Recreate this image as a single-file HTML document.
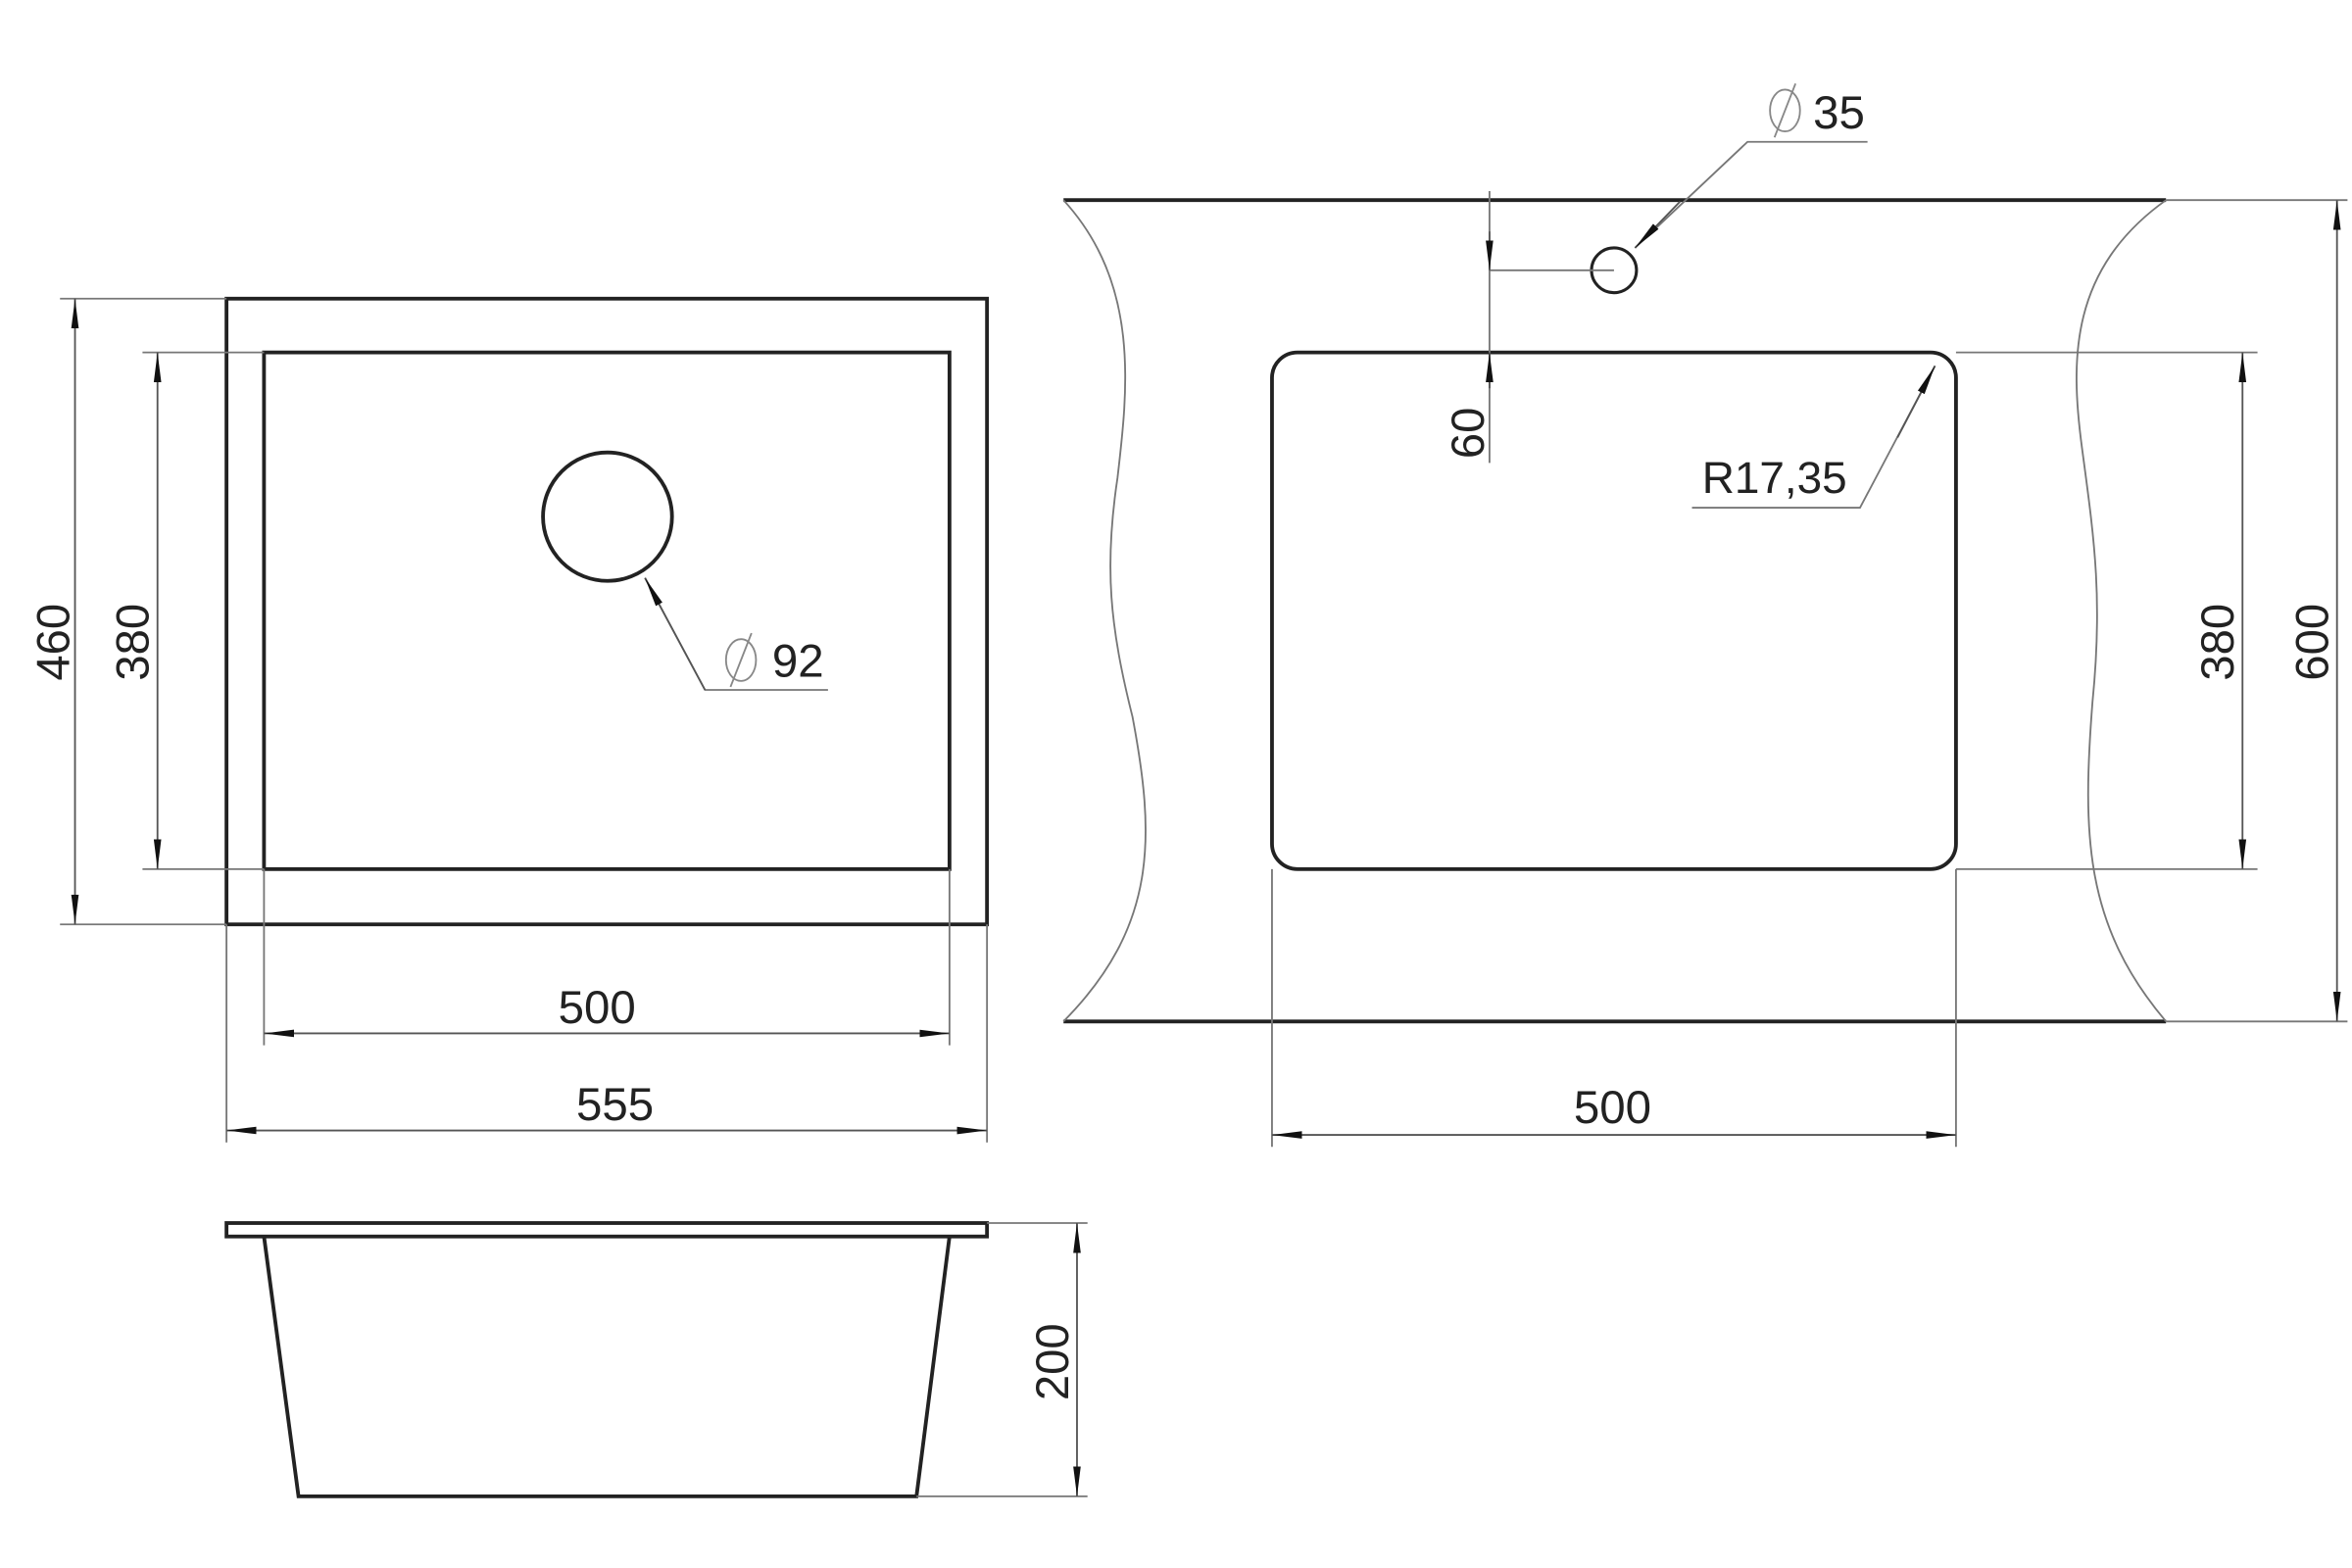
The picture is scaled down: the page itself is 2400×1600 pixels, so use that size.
<!DOCTYPE html>
<html><head><meta charset="utf-8"><style>html,body{margin:0;padding:0;background:#fff}svg{display:block}</style></head>
<body>
<svg width="2400" height="1600" viewBox="0 0 1568 1050" preserveAspectRatio="none" xmlns="http://www.w3.org/2000/svg">
<defs>
<marker id="a" viewBox="0 0 20 8" refX="20" refY="4" markerWidth="20" markerHeight="8" markerUnits="userSpaceOnUse" orient="auto-start-reverse"><path d="M0,1.5 L20,4 L0,6.5 z" fill="#111"/></marker>
</defs>
<g fill="none" stroke="#222" stroke-width="2.5">
<rect x="151" y="200" width="507" height="419"/>
<rect x="176" y="236" width="457" height="346"/>
<circle cx="405" cy="346" r="43"/>
<rect x="151" y="819" width="507" height="9"/>
<path d="M176,828 L199,1002 L611,1002 L633,828"/>
<line x1="709" y1="134" x2="1444" y2="134"/>
<line x1="709" y1="684" x2="1444" y2="684"/>
<rect x="848" y="236" width="456" height="346" rx="17" ry="17"/>
<circle cx="1076" cy="181" r="15" stroke-width="2"/>
</g>
<g fill="none" stroke="#777" stroke-width="1.2">
<path d="M709,134 C760,190 752,260 745,320 C736,380 740,420 755,480 C770,560 772,620 709,684"/>
<path d="M1444,134 C1380,180 1380,240 1388,300 C1396,360 1402,400 1395,470 C1388,560 1390,620 1444,684"/>
<line x1="40" y1="200" x2="151" y2="200"/><line x1="40" y1="619" x2="151" y2="619"/>
<line x1="95" y1="236" x2="176" y2="236"/><line x1="95" y1="582" x2="176" y2="582"/>
<line x1="176" y1="582" x2="176" y2="700"/><line x1="633" y1="582" x2="633" y2="700"/>
<line x1="151" y1="619" x2="151" y2="765"/><line x1="658" y1="619" x2="658" y2="765"/>
<line x1="658" y1="819" x2="725" y2="819"/><line x1="611" y1="1002" x2="725" y2="1002"/>
<path d="M430,387 L470,462 L552,462"/>
<line x1="848" y1="582" x2="848" y2="768"/><line x1="1304" y1="582" x2="1304" y2="768"/>
<line x1="1304" y1="236" x2="1505" y2="236"/><line x1="1304" y1="582" x2="1505" y2="582"/>
<line x1="1444" y1="134" x2="1565" y2="134"/><line x1="1444" y1="684" x2="1565" y2="684"/>
<line x1="993" y1="128" x2="993" y2="310"/>
<line x1="993" y1="181" x2="1076" y2="181"/>
<path d="M1090,166 L1165,95 L1245,95"/>
<path d="M1290,245 L1240,340 L1128,340"/>
</g>
<g stroke="#555" stroke-width="1.2" fill="none">
<line x1="50" y1="200" x2="50" y2="619" marker-start="url(#a)" marker-end="url(#a)"/>
<line x1="105" y1="236" x2="105" y2="582" marker-start="url(#a)" marker-end="url(#a)"/>
<line x1="176" y1="692" x2="633" y2="692" marker-start="url(#a)" marker-end="url(#a)"/>
<line x1="151" y1="757" x2="658" y2="757" marker-start="url(#a)" marker-end="url(#a)"/>
<line x1="718" y1="819" x2="718" y2="1002" marker-start="url(#a)" marker-end="url(#a)"/>
<line x1="470" y1="462" x2="430" y2="387" marker-end="url(#a)"/>
<line x1="848" y1="760" x2="1304" y2="760" marker-start="url(#a)" marker-end="url(#a)"/>
<line x1="1495" y1="236" x2="1495" y2="582" marker-start="url(#a)" marker-end="url(#a)"/>
<line x1="1558" y1="134" x2="1558" y2="684" marker-start="url(#a)" marker-end="url(#a)"/>
<line x1="993" y1="155" x2="993" y2="181" marker-end="url(#a)"/>
<line x1="993" y1="260" x2="993" y2="236" marker-end="url(#a)"/>
<line x1="1120" y1="135" x2="1090" y2="166" marker-end="url(#a)"/>
<line x1="1265" y1="293" x2="1290" y2="245" marker-end="url(#a)"/>
</g>
<g font-family="Liberation Sans, sans-serif" font-size="31" fill="#222" text-anchor="middle">
<text x="398" y="685">500</text>
<text x="410" y="750">555</text>
<text x="1075" y="752">500</text>
<text x="1183" y="330" font-size="30">R17,35</text>
<text x="1226" y="86">35</text>
<text x="532" y="453">92</text>
<text transform="translate(46,430) rotate(-90)">460</text>
<text transform="translate(99,430) rotate(-90)">380</text>
<text transform="translate(712,912) rotate(-90)">200</text>
<text transform="translate(989,290) rotate(-90)">60</text>
<text transform="translate(1489,430) rotate(-90)">380</text>
<text transform="translate(1552,430) rotate(-90)">600</text>
</g>
<g fill="none" stroke="#888" stroke-width="1.2">
<ellipse cx="1190" cy="74" rx="10" ry="14"/><line x1="1183" y1="92" x2="1197" y2="56"/>
<ellipse cx="494" cy="442" rx="10" ry="14"/><line x1="487" y1="460" x2="501" y2="424"/>
</g>
</svg>
</body></html>
